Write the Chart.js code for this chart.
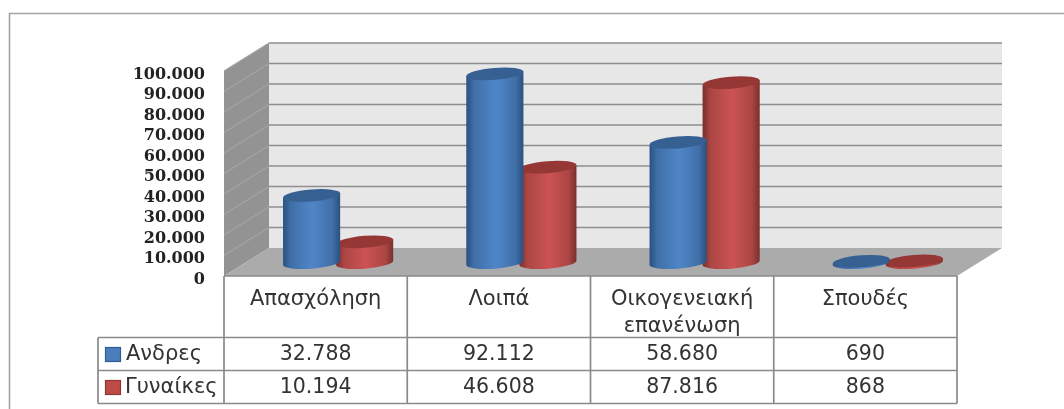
<!DOCTYPE html>
<html lang="el">
<head>
<meta charset="utf-8">
<style>
html,body{margin:0;padding:0;background:#fff}
canvas{display:block;filter:blur(0.45px)}
</style>
<script src="https://cdn.jsdelivr.net/npm/chart.js@4"></script>
</head>
<body>
<canvas id="c" width="1064" height="409"></canvas>
<script>
const categories = [["Απασχόληση"], ["Λοιπά"], ["Οικογενειακή", "επανένωση"], ["Σπουδές"]];
const seriesNames = ["Ανδρες", "Γυναίκες"];
const men = [32788, 92112, 58680, 690];
const women = [10194, 46608, 87816, 868];
const axisMax = 100000;
const axisStep = 10000;

const fmt = v => String(v).replace(/\B(?=(\d{3})+$)/g, ".");
const DEPTH_X = 45, DEPTH_Y = 28;
const palette = [
  {edge:"#2a5080", mid:"#406fa8", light:"#4f86c8", top:"#376092", swatch:"#4a7ebb"},
  {edge:"#7a2e2c", mid:"#ab4644", light:"#cc5352", top:"#953735", swatch:"#be4b48"}
];
const GRID = "#8e8e8e", TABLE = "#8a8a8a", TEXT = "#333333";

function line(ctx, x1, y1, x2, y2) {
  ctx.beginPath(); ctx.moveTo(x1, y1); ctx.lineTo(x2, y2); ctx.stroke();
}

const walls = {
  id: "walls",
  beforeDatasetsDraw(chart) {
    const {ctx, chartArea: a, scales: {y}} = chart;
    const dx = DEPTH_X, dy = DEPTH_Y;
    ctx.save();
    // frame
    ctx.strokeStyle = "#a2a2a2"; ctx.lineWidth = 1.6;
    ctx.beginPath(); ctx.moveTo(9.5, 409); ctx.lineTo(9.5, 13.5); ctx.lineTo(1064, 13.5); ctx.stroke();
    // back wall
    ctx.fillStyle = "#e7e7e7";
    ctx.fillRect(a.left + dx, a.top - dy, a.width, a.height);
    // side wall
    ctx.fillStyle = "#939393";
    ctx.beginPath();
    ctx.moveTo(a.left, a.top); ctx.lineTo(a.left + dx, a.top - dy);
    ctx.lineTo(a.left + dx, a.bottom - dy); ctx.lineTo(a.left, a.bottom);
    ctx.closePath(); ctx.fill();
    // floor
    ctx.fillStyle = "#ababab";
    ctx.beginPath();
    ctx.moveTo(a.left, a.bottom); ctx.lineTo(a.left + dx, a.bottom - dy);
    ctx.lineTo(a.right + dx, a.bottom - dy); ctx.lineTo(a.right, a.bottom);
    ctx.closePath(); ctx.fill();
    // gridlines from the value scale
    y.ticks.forEach(t => {
      const py = y.getPixelForValue(t.value);
      if (t.value > 0) {
        ctx.strokeStyle = "#a4a4a4"; ctx.lineWidth = 1.2;
        line(ctx, a.left, py, a.left + dx, py - dy);
        ctx.strokeStyle = GRID; ctx.lineWidth = 1.7;
        line(ctx, a.left + dx, py - dy, a.right + dx, py - dy);
      }
    });
    ctx.restore();
  }
};

const cylinders = {
  id: "cylinders",
  beforeDatasetDraw(chart, args) {
    const {ctx} = chart;
    const p = palette[args.index];
    const rot = -4.5 * Math.PI / 180, ry = 6;
    ctx.save();
    ctx.translate(DEPTH_X / 2, -DEPTH_Y / 2 + 0.7);
    args.meta.data.forEach(bar => {
      const rx = bar.width / 2, cx = bar.x, top = bar.y, base = bar.base;
      const ex = rx * Math.cos(rot), ey = rx * Math.sin(rot);
      const g = ctx.createLinearGradient(cx - rx, 0, cx + rx, 0);
      g.addColorStop(0, p.edge); g.addColorStop(0.14, p.mid);
      g.addColorStop(0.52, p.light); g.addColorStop(0.86, p.mid); g.addColorStop(1, p.edge);
      ctx.fillStyle = g;
      ctx.beginPath();
      ctx.moveTo(cx - ex, top - ey);
      ctx.lineTo(cx - ex, base - ey);
      ctx.ellipse(cx, base, rx, ry, rot, Math.PI, 0, true);
      ctx.lineTo(cx + ex, top + ey);
      ctx.closePath();
      ctx.fill();
      ctx.fillStyle = p.top;
      ctx.beginPath();
      ctx.ellipse(cx, top, rx, ry, rot, 0, Math.PI * 2);
      ctx.fill();
    });
    ctx.restore();
    return false;
  }
};

const dataTable = {
  id: "dataTable",
  afterDraw(chart) {
    const {ctx, chartArea: a, scales: {x}} = chart;
    const rowTop = 337.5, rowH = [33, 33], legendLeft = 98;
    const step = a.width / categories.length;
    const rows = [rowTop, rowTop + rowH[0], rowTop + rowH[0] + rowH[1]];
    ctx.save();
    ctx.strokeStyle = TABLE; ctx.lineWidth = 1.7;
    for (let i = 0; i <= categories.length; i++) {
      const px = a.left + i * step;
      line(ctx, px, a.bottom, px, rows[2]);
    }
    line(ctx, legendLeft, rows[0], legendLeft, rows[2]);
    rows.forEach(r => line(ctx, legendLeft, r, a.right, r));
    line(ctx, a.left, a.bottom, a.right, a.bottom);
    ctx.fillStyle = TEXT;
    ctx.textBaseline = "middle";
    [men, women].forEach((vals, r) => {
      const cy = rows[r] + rowH[r] / 2 + 0.5;
      ctx.fillStyle = TEXT;
      ctx.font = "20.5px 'DejaVu Sans'";
      ctx.textAlign = "center";
      vals.forEach((v, i) => ctx.fillText(fmt(v), x.getPixelForValue(i), cy));
      ctx.textAlign = "left";
      ctx.font = "21px 'DejaVu Sans'";
      ctx.fillText(seriesNames[r], r ? 125 : 126, cy);
      ctx.fillStyle = palette[r].swatch;
      ctx.strokeStyle = r ? "#8c3836" : "#2f5d92";
      ctx.lineWidth = 1.2;
      ctx.fillRect(105.5, cy - 7, 15, 14);
      ctx.strokeRect(105.5, cy - 7, 15, 14);
    });
    ctx.restore();
  }
};

new Chart(document.getElementById("c"), {
  type: "bar",
  data: {
    labels: categories,
    datasets: [
      {label: seriesNames[0], data: men, backgroundColor: palette[0].swatch, categoryPercentage: 0.579, barPercentage: 1.08},
      {label: seriesNames[1], data: women, backgroundColor: palette[1].swatch, categoryPercentage: 0.579, barPercentage: 1.08}
    ]
  },
  plugins: [walls, cylinders, dataTable],
  options: {
    responsive: false,
    animation: false,
    layout: {padding: {top: 71, right: 107, left: 0, bottom: 0}},
    plugins: {legend: {display: false}, title: {display: false}, tooltip: {enabled: false}},
    scales: {
      y: {
        min: 0, max: axisMax,
        grid: {display: false, drawTicks: false},
        border: {display: false},
        afterFit(s) { s.width = 224; },
        ticks: {
          stepSize: axisStep,
          autoSkip: false,
          labelOffset: 3.5,
          padding: 19,
          color: "#222222",
          font: {family: "'DejaVu Serif'", size: 16, weight: "bold"},
          callback: v => fmt(v)
        }
      },
      x: {
        grid: {display: false, drawTicks: false},
        border: {display: false},
        afterFit(s) { s.height = 133; },
        ticks: {
          autoSkip: false, maxRotation: 0, minRotation: 0,
          padding: 10,
          color: TEXT,
          font: {family: "'DejaVu Sans'", size: 21, lineHeight: 1.3}
        }
      }
    }
  }
});
</script>
</body>
</html>
